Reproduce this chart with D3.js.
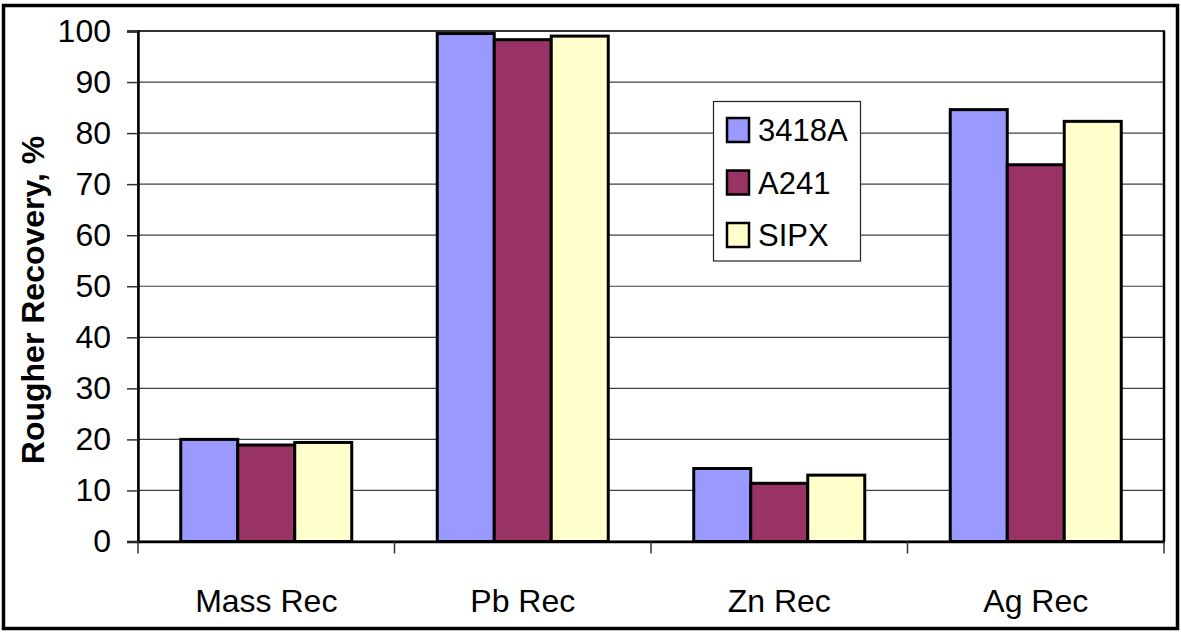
<!DOCTYPE html>
<html>
<head>
<meta charset="utf-8">
<script src="https://cdn.jsdelivr.net/npm/d3@7"></script>
<style>
  html, body { margin: 0; padding: 0; background: #fff; }
  svg { display: block; }
  text { font-family: Arial, "Liberation Sans", sans-serif; fill: #000; }
</style>
</head>
<body>
<script>
const categories = ["Mass Rec", "Pb Rec", "Zn Rec", "Ag Rec"];
const seriesNames = ["3418A", "A241", "SIPX"];
const values3418A = [20.0, 99.5, 14.3, 84.6];
const valuesA241 = [18.9, 98.3, 11.4, 73.8];
const valuesSIPX = [19.4, 99.0, 13.0, 82.3];
const seriesColors = ["#9999FF", "#993366", "#FFFFCC"];
const yTicks = [0, 10, 20, 30, 40, 50, 60, 70, 80, 90, 100];
const yTitle = "Rougher Recovery, %";

const seriesValues = [values3418A, valuesA241, valuesSIPX];

const W = 1181, H = 632;
const plot = { left: 138, right: 1164, top: 31, bottom: 541.5 };

const svg = d3.select("body").append("svg").attr("width", W).attr("height", H);

// outer frame
svg.append("rect").attr("x", 3.5).attr("y", 5.5).attr("width", 1174).attr("height", 623)
  .attr("fill", "#fff").attr("stroke", "#000").attr("stroke-width", 3.5);

const x0 = d3.scaleBand().domain(categories).range([plot.left, plot.right]).paddingInner(0).paddingOuter(0);
// gap width 150%: group occupies 3/4.5 of the band
const bw = x0.bandwidth();
const x1 = d3.scaleBand().domain(seriesNames)
  .range([bw * 0.75 / 4.5, bw - bw * 0.75 / 4.5]).padding(0);
const y = d3.scaleLinear().domain([0, 100]).range([plot.bottom, plot.top]);

// plot area border
svg.append("rect").attr("x", plot.left).attr("y", plot.top)
  .attr("width", plot.right - plot.left).attr("height", plot.bottom - plot.top)
  .attr("fill", "#fff").attr("stroke", "#333").attr("stroke-width", 2);

// gridlines
svg.append("g").selectAll("line").data(yTicks.filter(d => d > 0 && d < 100)).join("line")
  .attr("x1", plot.left).attr("x2", plot.right)
  .attr("y1", d => y(d)).attr("y2", d => y(d))
  .attr("stroke", "#404040").attr("stroke-width", 1.2);

// bars
const groups = svg.append("g").selectAll("g").data(categories).join("g")
  .attr("transform", c => `translate(${x0(c)},0)`);
groups.selectAll("rect").data((c, i) => seriesNames.map((s, j) => ({ s, j, v: seriesValues[j][i] })))
  .join("rect")
  .attr("x", d => x1(d.s)).attr("width", x1.bandwidth())
  .attr("y", d => y(d.v)).attr("height", d => y(0) - y(d.v))
  .attr("fill", d => seriesColors[d.j]).attr("stroke", "#000").attr("stroke-width", 3);

// y axis
const yAxis = svg.append("g").attr("transform", `translate(${plot.left},0)`)
  .call(d3.axisLeft(y).tickValues(yTicks).tickSize(11).tickPadding(16).tickFormat(d3.format("d")));
yAxis.select(".domain").attr("stroke", "#000").attr("stroke-width", 2.5);
yAxis.selectAll(".tick line").attr("stroke", "#333").attr("stroke-width", 1.5);
yAxis.selectAll(".tick text").attr("font-size", 32).attr("font-family", "Arial, 'Liberation Sans', sans-serif").attr("fill", "#000");

// x axis
const xAxis = svg.append("g").attr("transform", `translate(0,${plot.bottom})`)
  .call(d3.axisBottom(x0).tickSize(0).tickPadding(70));
xAxis.select(".domain").attr("stroke", "#000").attr("stroke-width", 2.5);
xAxis.selectAll(".tick text").attr("font-size", 32).attr("font-family", "Arial, 'Liberation Sans', sans-serif").attr("fill", "#000")
  .attr("dy", "0");
// boundary ticks
const bounds = categories.map(c => x0(c)).concat([plot.right]);
svg.append("g").selectAll("line").data(bounds).join("line")
  .attr("x1", d => d).attr("x2", d => d)
  .attr("y1", plot.bottom).attr("y2", plot.bottom + 12)
  .attr("stroke", "#333").attr("stroke-width", 1.5);

// re-stroke right border black
svg.append("line").attr("x1", plot.right).attr("x2", plot.right)
  .attr("y1", plot.top).attr("y2", plot.bottom).attr("stroke", "#000").attr("stroke-width", 2.5);

// y title
svg.append("text")
  .attr("transform", `translate(44,300) rotate(-90)`)
  .attr("text-anchor", "middle")
  .attr("font-size", 32).attr("font-weight", "bold")
  .text(yTitle);

// legend
const legend = svg.append("g");
legend.append("rect").attr("x", 713.5).attr("y", 101.5).attr("width", 147).attr("height", 159.5)
  .attr("fill", "#fff").attr("stroke", "#222").attr("stroke-width", 1.2);
const li = legend.selectAll("g").data(seriesNames).join("g")
  .attr("transform", (d, i) => `translate(0,${130 + i * 52.5})`);
li.append("rect").attr("x", 727).attr("y", -12).attr("width", 22).attr("height", 24)
  .attr("fill", (d, i) => seriesColors[i]).attr("stroke", "#000").attr("stroke-width", 2.5);
li.append("text").attr("x", 758).attr("y", 0).attr("dy", "0.36em")
  .attr("font-size", 31).text(d => d);
</script>
</body>
</html>
